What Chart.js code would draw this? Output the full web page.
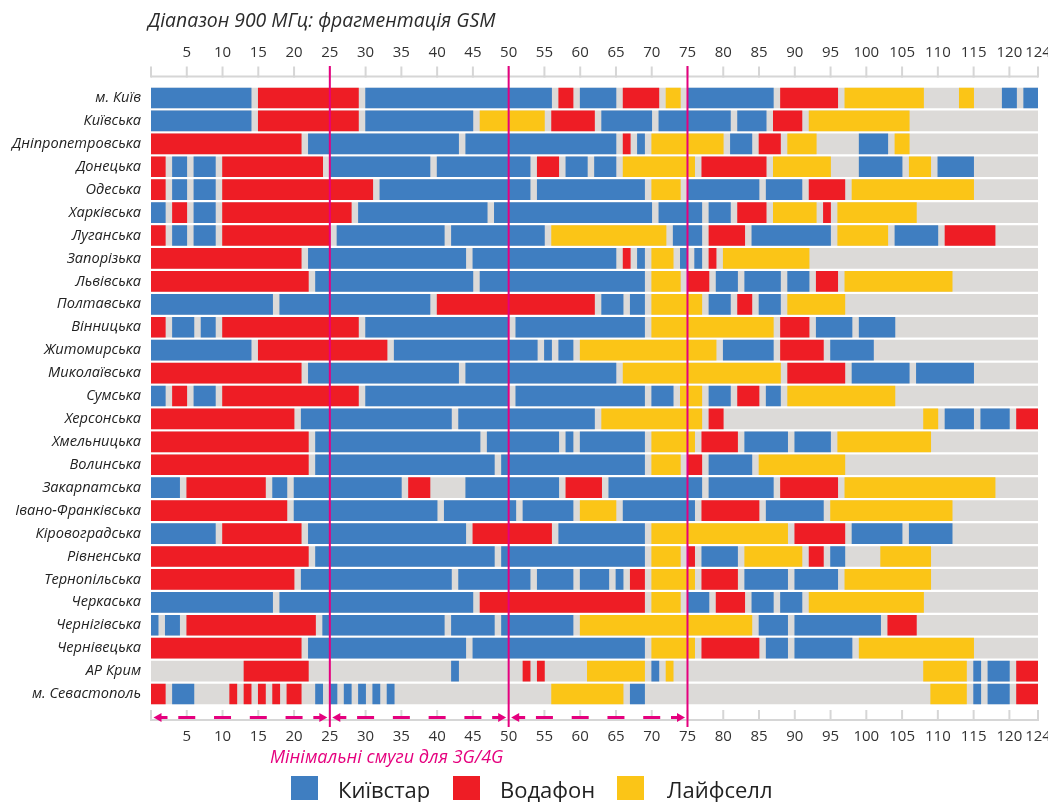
<!DOCTYPE html>
<html lang="uk">
<head>
<meta charset="utf-8">
<title>Діапазон 900 МГц: фрагментація GSM</title>
<script src="https://cdn.jsdelivr.net/npm/chart.js@4.4.1/dist/chart.umd.min.js"></script>
<style>
  html, body { margin: 0; padding: 0; background: #fff; }
  #wrap { position: relative; width: 1048px; height: 802px; overflow: hidden; }
</style>
</head>
<body>
<div id="wrap"><canvas id="gsmChart" width="1048" height="802"></canvas></div>
<script>
// ========================== Data ==========================
const regions = [
  'м. Київ', 'Київська', 'Дніпропетровська', 'Донецька', 'Одеська', 'Харківська',
  'Луганська', 'Запорізька', 'Львівська', 'Полтавська', 'Вінницька', 'Житомирська',
  'Миколаївська', 'Сумська', 'Херсонська', 'Хмельницька', 'Волинська', 'Закарпатська',
  'Івано-Франківська', 'Кіровоградська', 'Рівненська', 'Тернопільська', 'Черкаська',
  'Чернігівська', 'Чернівецька', 'АР Крим', 'м. Севастополь'
];

// channel ranges [from, to] per region
const kyivstar = [
  [[0,14],[30,56],[60,65],[75,87],[119,121],[122,124]],
  [[0,14],[30,45],[63,70],[71,81],[82,86]],
  [[22,43],[44,65],[68,69],[81,84],[99,103]],
  [[3,5],[6,9],[25,39],[40,53],[58,61],[62,65],[99,105],[110,115]],
  [[3,5],[6,9],[32,53],[54,69],[75,85],[86,91]],
  [[0,2],[6,9],[29,47],[48,70],[71,77],[78,81]],
  [[3,5],[6,9],[26,41],[42,55],[73,77],[84,95],[104,110]],
  [[22,44],[45,65],[68,69],[74,75],[76,77]],
  [[23,45],[46,69],[79,82],[83,88],[89,92]],
  [[0,17],[18,39],[63,66],[67,69],[78,81],[85,88]],
  [[3,6],[7,9],[30,50],[51,69],[93,98],[99,104]],
  [[0,14],[34,54],[55,56],[57,59],[80,87],[95,101]],
  [[22,43],[44,65],[98,106],[107,115]],
  [[0,2],[6,9],[30,50],[51,69],[70,73],[78,81],[86,88]],
  [[21,42],[43,62],[111,115],[116,120]],
  [[23,46],[47,57],[58,59],[60,69],[83,89],[90,95]],
  [[23,48],[49,69],[78,84]],
  [[0,4],[17,19],[20,35],[44,57],[64,77],[78,87]],
  [[20,40],[41,51],[52,59],[66,76],[86,94]],
  [[0,9],[22,44],[57,69],[98,105],[106,112]],
  [[23,48],[49,69],[77,82],[95,97]],
  [[21,42],[43,53],[54,59],[60,64],[65,66],[83,89],[90,96]],
  [[0,17],[18,45],[75,78],[84,87],[88,91]],
  [[0,1],[2,4],[24,41],[42,48],[49,59],[85,89],[90,102]],
  [[22,44],[45,69],[86,89],[90,98]],
  [[42,43],[70,71],[115,116],[117,120]],
  [[3,6],[23,24],[25,26],[27,28],[29,30],[31,32],[33,34],[67,69],[115,116],[117,120]]
];

const vodafone = [
  [[15,29],[57,59],[66,71],[88,96]],
  [[15,29],[56,62],[87,91]],
  [[0,21],[66,67],[85,88]],
  [[0,2],[10,24],[54,57],[77,86]],
  [[0,2],[10,31],[92,97]],
  [[3,5],[10,28],[82,86],[94,95]],
  [[0,2],[10,25],[78,83],[111,118]],
  [[0,21],[66,67],[78,79]],
  [[0,22],[75,78],[93,96]],
  [[40,62],[82,84]],
  [[0,2],[10,29],[88,92]],
  [[15,33],[88,94]],
  [[0,21],[89,97]],
  [[3,5],[10,29],[82,85]],
  [[0,20],[78,80],[121,124]],
  [[0,22],[77,82]],
  [[0,22],[75,77]],
  [[5,16],[36,39],[58,63],[88,96]],
  [[0,19],[77,85]],
  [[10,21],[45,56],[90,97]],
  [[0,22],[75,76],[92,94]],
  [[0,20],[67,69],[77,82]],
  [[46,69],[79,83]],
  [[5,23],[103,107]],
  [[0,21],[77,85]],
  [[13,22],[52,53],[54,55],[121,124]],
  [[0,2],[11,12],[13,14],[15,16],[17,18],[19,21],[121,124]]
];

const lifecell = [
  [[72,74],[97,108],[113,115]],
  [[46,55],[92,106]],
  [[70,80],[89,93],[104,106]],
  [[66,76],[87,95],[106,109]],
  [[70,74],[98,115]],
  [[87,93],[96,107]],
  [[56,72],[96,103]],
  [[70,73],[80,92]],
  [[70,74],[97,112]],
  [[70,77],[89,97]],
  [[70,87]],
  [[60,79]],
  [[66,88]],
  [[74,77],[89,104]],
  [[63,77],[108,110]],
  [[70,76],[96,109]],
  [[70,74],[85,97]],
  [[97,118]],
  [[60,65],[95,112]],
  [[70,89]],
  [[70,74],[83,91],[102,109]],
  [[70,76],[97,109]],
  [[70,74],[92,108]],
  [[60,84]],
  [[70,76],[99,115]],
  [[61,69],[72,73],[108,114]],
  [[56,66],[109,114]]
];

const totalChannels = 124;
const channelTicks = [5,10,15,20,25,30,35,40,45,50,55,60,65,70,75,80,85,90,95,100,105,110,115,120,124];
const axisMarks = [0,5,10,15,20,25,30,35,40,45,50,55,60,65,70,75,80,85,90,95,100,105,110,115,120,124];
const bandEdges = [0, 25, 50, 75];

const operators = ['Київстар', 'Водафон', 'Лайфселл'];
const colors = ['#3f7ec1', '#ee1d25', '#fbc517'];
const freeColor = '#dcdad8';
const accent = '#e5007e';
const axisGrey = '#d6d6d6';
const fontFamily = "'Open Sans', 'Noto Sans', sans-serif";

// ========================== Datasets ==========================
function segmentDatasets(segments, label, color) {
  const count = Math.max(...segments.map(s => s.length));
  const sets = [];
  for (let i = 0; i < count; i++) {
    sets.push({
      label: label,
      data: segments.map(s => s[i] || null),
      backgroundColor: color,
      order: 0
    });
  }
  return sets;
}

const datasets = [
  ...segmentDatasets(kyivstar, operators[0], colors[0]),
  ...segmentDatasets(vodafone, operators[1], colors[1]),
  ...segmentDatasets(lifecell, operators[2], colors[2]),
  {
    label: 'free',
    data: regions.map(() => [0, totalChannels]),
    backgroundColor: freeColor,
    order: 1
  }
];

// ========================== Decorations ==========================
function drawArrowHead(ctx, tipX, y, dir) {
  // dir = 1 points right, -1 points left
  ctx.beginPath();
  ctx.moveTo(tipX, y);
  ctx.lineTo(tipX - dir * 8, y - 4.5);
  ctx.lineTo(tipX - dir * 8, y + 4.5);
  ctx.closePath();
  ctx.fill();
  ctx.beginPath();
  ctx.moveTo(tipX - dir * 6, y);
  ctx.lineTo(tipX - dir * 14, y);
  ctx.stroke();
}

const decorPlugin = {
  id: 'decor',
  afterDraw(chart) {
    const ctx = chart.ctx;
    const xs = chart.scales.x;
    ctx.save();

    // title
    ctx.fillStyle = '#2b2b2b';
    ctx.font = 'italic 19.4px ' + fontFamily;
    ctx.textBaseline = 'middle';
    ctx.textAlign = 'left';
    ctx.fillText('Діапазон 900 МГц: фрагментація GSM', 148, 21);

    // axis lines with upward ticks (top and bottom)
    ctx.strokeStyle = axisGrey;
    ctx.lineWidth = 2;
    [76.5, 720].forEach(lineY => {
      ctx.beginPath();
      ctx.moveTo(xs.getPixelForValue(0), lineY);
      ctx.lineTo(xs.getPixelForValue(totalChannels), lineY);
      ctx.stroke();
      axisMarks.forEach(v => {
        const px = xs.getPixelForValue(v);
        ctx.beginPath();
        ctx.moveTo(px, lineY + 1);
        ctx.lineTo(px, lineY - 10);
        ctx.stroke();
      });
    });

    // band limits
    ctx.strokeStyle = accent;
    ctx.lineWidth = 2;
    bandEdges.slice(1).forEach(v => {
      const px = xs.getPixelForValue(v);
      ctx.beginPath();
      ctx.moveTo(px, 66);
      ctx.lineTo(px, 727);
      ctx.stroke();
    });

    // dashed double arrows for each 25-channel band
    const arrowY = 717.5;
    ctx.fillStyle = accent;
    ctx.lineWidth = 3;
    for (let i = 0; i < bandEdges.length - 1; i++) {
      const a = bandEdges[i], b = bandEdges[i + 1];
      drawArrowHead(ctx, xs.getPixelForValue(a) + 2.5, arrowY, -1);
      drawArrowHead(ctx, xs.getPixelForValue(b) - 2.5, arrowY, 1);
      channelTicks.filter(t => t > a && t < b).forEach(t => {
        const px = xs.getPixelForValue(t);
        ctx.beginPath();
        ctx.moveTo(px - 8.5, arrowY);
        ctx.lineTo(px + 8.5, arrowY);
        ctx.stroke();
      });
    }

    ctx.fillStyle = accent;
    ctx.font = 'italic 18px ' + fontFamily;
    ctx.textAlign = 'left';
    ctx.fillText('Мінімальні смуги для 3G/4G', 270, 758);

    // legend
    const legendItems = [[291, 338], [453, 500], [617, 667]];
    ctx.font = '22px ' + fontFamily;
    legendItems.forEach(([boxX, textX], i) => {
      ctx.fillStyle = colors[i];
      ctx.fillRect(boxX, 776, 27, 24);
      ctx.fillStyle = '#222';
      ctx.fillText(operators[i], textX, 792);
    });

    ctx.restore();
  }
};

// ========================== Chart ==========================
const tickFont = { family: fontFamily, size: 15 };

const channelAxis = (position, padding, height) => ({
  type: 'linear',
  axis: 'x',
  position: position,
  min: 0,
  max: totalChannels,
  afterBuildTicks: scale => { scale.ticks = channelTicks.map(v => ({ value: v })); },
  afterFit: scale => { scale.height = height; scale.paddingLeft = 0; scale.paddingRight = 0; },
  grid: { display: false, drawTicks: false },
  border: { display: false },
  ticks: { font: tickFont, color: '#333', padding: padding, autoSkip: false, maxRotation: 0 }
});

new Chart(document.getElementById('gsmChart'), {
  type: 'bar',
  data: { labels: regions, datasets: datasets },
  options: {
    indexAxis: 'y',
    responsive: false,
    animation: false,
    layout: { padding: { top: 0, right: 10, bottom: 0, left: 0 } },
    datasets: {
      bar: { grouped: false, barThickness: 20, borderWidth: 0, borderSkipped: false }
    },
    plugins: {
      legend: { display: false },
      tooltip: { enabled: false },
      title: { display: false }
    },
    scales: {
      x: channelAxis('bottom', 22, 96.5),
      xTop: channelAxis('top', 25, 86.5),
      y: {
        type: 'category',
        grid: { display: false, drawTicks: false },
        border: { display: false },
        afterFit: scale => { scale.width = 151; },
        ticks: {
          font: { family: fontFamily, size: 14.6, style: 'italic' },
          color: '#222',
          padding: 10,
          autoSkip: false
        }
      }
    }
  },
  plugins: [decorPlugin]
});
</script>
</body>
</html>
